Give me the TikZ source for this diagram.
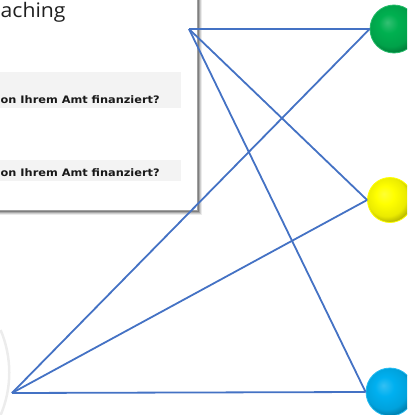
\documentclass[tikz,border=0pt]{standalone}
\usepackage{fontspec}
\setmainfont{Open Sans}
\newfontfamily\qfont{DejaVu Sans}
\definecolor{linkblue}{HTML}{4472C4}
\definecolor{gcol}{HTML}{00B050}
\definecolor{ycol}{HTML}{FFFF00}
\definecolor{bcol}{HTML}{00B0F0}
\definecolor{barcol}{HTML}{F3F3F3}
\colorlet{mball}{gcol}
\pgfdeclareradialshading[mball]{myball}{\pgfqpoint{-7bp}{7bp}}{%
 color(0bp)=(mball!80!white); color(10bp)=(mball); color(22bp)=(mball!92!black);
 color(30bp)=(mball!65!black); color(50bp)=(mball!60!black)}
\tikzset{
  ballcol/.code={\colorlet{mball}{#1}},
  ballnode/.style={circle, minimum size=#1, inner sep=0pt, shading=myball},
  link/.style={draw=linkblue, line width=1.8pt},
  qtext/.style={font=\qfont\bfseries\fontsize{10.3}{12}\selectfont, text=black!90, inner sep=0pt, anchor=base west},
}
\begin{document}
\begin{tikzpicture}[x=1pt,y=-1pt]
\useasboundingbox (0,0) rectangle (407,415);
\clip (0,0) rectangle (407,415);
% faint arc bottom-left
\draw[gray!15, line width=2.5pt] (0.6,330) arc[start angle=23, end angle=-23, radius=109pt];
% screenshot box shadow
\foreach \o/\op in {4/0.08,3/0.12,2/0.18,1/0.25}{
  \fill[black, opacity=\op] (-10,-10) rectangle (198+\o,211+\o);
}
\node[draw=gray!75, line width=1.5pt, fill=white, minimum width=220pt, minimum height=232pt, anchor=south east, inner sep=0pt] (box) at (198,211) {};
\fill[barcol] (-5,72) rectangle (181,108);
\fill[barcol] (-5,160) rectangle (181,181);
\node[anchor=base west, inner sep=0pt, font=\fontsize{20}{23}\selectfont, text=black!88] (title) at (0.5,17) {\scalebox{1.06}[1]{aching}};
\node[qtext] (q1) at (0.5,103) {\scalebox{1.1}[1]{on Ihrem Amt finanziert?}};
\node[qtext] (q2) at (0.5,176) {\scalebox{1.1}[1]{on Ihrem Amt finanziert?}};
% balls
\node[ballnode=48pt, ballcol=gcol, draw=gcol!85!white, line width=0.8pt] (g) at (394,29) {};
\node[ballnode=45pt, ballcol=ycol, draw=ycol, line width=0.8pt] (y) at (390,200) {};
\node[ballnode=48pt, ballcol=bcol, draw=bcol!85!white, line width=0.8pt] (b) at (390,392) {};
% connection points
\coordinate (T) at (189,29);
\coordinate (B) at (12,393);
\draw[link] (T) -- (g.west);
\draw[link] (T) -- (y.west);
\draw[link] (T) -- (b.west);
\draw[link] (B) -- (g.west);
\draw[link] (B) -- (y.west);
\draw[link] (B) -- (b.west);
\end{tikzpicture}
\end{document}
